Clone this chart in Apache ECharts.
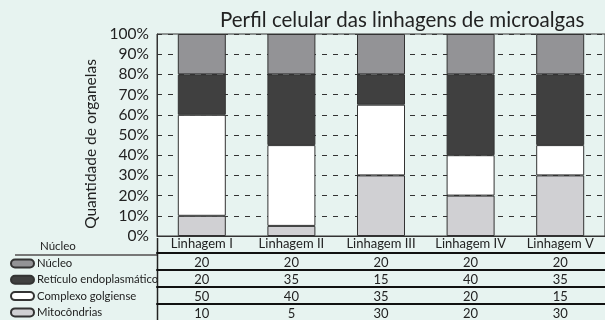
<!DOCTYPE html>
<html>
<head>
<meta charset="utf-8">
<script src="https://cdn.jsdelivr.net/npm/echarts@6/dist/echarts.min.js"></script>
<style>
  html, body { margin: 0; padding: 0; background: #e7f3f0; }
  #chart { width: 605px; height: 320px; }
</style>
</head>
<body>
<div id="chart"></div>
<script>
// Lineages shown on the x axis
const categories = ['Linhagem I', 'Linhagem II', 'Linhagem III', 'Linhagem IV', 'Linhagem V'];

// Organelle shares per lineage (%)
const nucleo = [20, 20, 20, 20, 20];
const reticulo = [20, 35, 15, 40, 35];
const complexo = [50, 40, 35, 20, 15];
const mitocondrias = [10, 5, 30, 20, 30];

const seriesNames = ['Núcleo', 'Retículo endoplasmático', 'Complexo golgiense', 'Mitocôndrias'];
const tableRows = [nucleo, reticulo, complexo, mitocondrias];

const FONT = 'Lato, "Open Sans", sans-serif';
const INK = '#222';

const chart = echarts.init(document.getElementById('chart'), null, { renderer: 'canvas' });

const GRID_LEFT = 157;
const GRID_TOP = 34;
const GRID_BOTTOM = 82;

// one hidden-tick category axis per table row; its axis line is the row separator
const rowOffsets = [17, 34, 51, 67.5];
const tableAxes = tableRows.map((row, k) => ({
  type: 'category',
  gridIndex: 0,
  data: categories,
  position: 'bottom',
  offset: rowOffsets[k],
  axisLine: { show: true, lineStyle: { color: '#111', width: 2 } },
  axisTick: { show: false },
  splitLine: { show: false },
  axisLabel: {
    interval: 0,
    margin: 3.5,
    fontFamily: FONT,
    fontSize: 13,
    color: INK,
    formatter: (v, i) => String(row[i])
  }
}));

const bar = (name, data, color) => ({
  name,
  type: 'bar',
  stack: 'total',
  data,
  barWidth: 48,
  xAxisIndex: 0,
  yAxisIndex: 0,
  itemStyle: { color, borderColor: '#333', borderWidth: 1 },
  emphasis: { disabled: true },
  animation: false
});

chart.setOption({
  backgroundColor: '#e7f3f0',
  animation: false,
  title: [
    {
      text: 'Perfil celular das linhagens de microalgas',
      left: 215,
      top: 5,
      textStyle: { fontFamily: FONT, fontSize: 20.5, fontWeight: 'normal', color: INK }
    },
    {
      text: 'Núcleo',
      left: 35,
      top: 235,
      textStyle: { fontFamily: FONT, fontSize: 11.5, fontWeight: 'normal', color: INK }
    }
  ],
  legend: {
    orient: 'vertical',
    left: 10,
    top: 258,
    padding: 0,
    itemGap: 5.3,
    itemWidth: 23,
    itemHeight: 8,
    selectedMode: false,
    icon: 'path://M4,0 L19,0 A4,4 0 0 1 19,8 L4,8 A4,4 0 0 1 4,0 Z',
    data: seriesNames,
    textStyle: { fontFamily: FONT, fontSize: 11.3, color: INK, padding: [0, 0, 0, -2] }
  },
  grid: {
    left: GRID_LEFT,
    right: -8,
    top: GRID_TOP,
    bottom: GRID_BOTTOM,
    show: true,
    backgroundColor: 'transparent',
    borderColor: '#333',
    borderWidth: 1
  },
  xAxis: [
    {
      type: 'category',
      data: categories,
      axisLine: { show: true, lineStyle: { color: '#333', width: 1 } },
      axisTick: { show: false },
      axisLabel: { interval: 0, margin: 1.5, fontFamily: FONT, fontSize: 13, color: INK }
    },
    ...tableAxes
  ],
  yAxis: {
    type: 'value',
    min: 0,
    max: 100,
    interval: 10,
    name: 'Quantidade de organelas',
    nameLocation: 'middle',
    nameRotate: 90,
    nameGap: 57,
    nameTextStyle: { fontFamily: FONT, fontSize: 15.5, color: INK, padding: [0, 18, 0, 0] },
    axisLine: { show: true, lineStyle: { color: '#333', width: 1 } },
    axisTick: { show: false },
    axisLabel: { formatter: '{value}%', margin: 8, fontFamily: FONT, fontSize: 15.5, color: INK },
    splitLine: { show: true, lineStyle: { color: '#333', width: 1, type: [5, 6] } }
  },
  graphic: [
    // row rule under the table header on the legend side
    { type: 'line', shape: { x1: 15, y1: 255, x2: GRID_LEFT, y2: 255 }, style: { stroke: '#777', lineWidth: 2 }, silent: true },
    // vertical rule continuing the value axis through the table
    { type: 'line', shape: { x1: GRID_LEFT + 0.5, y1: 238, x2: GRID_LEFT + 0.5, y2: 320 }, style: { stroke: '#222', lineWidth: 1.5 }, silent: true }
  ],
  series: [
    bar('Mitocôndrias', mitocondrias, '#d0d0d3'),
    bar('Complexo golgiense', complexo, '#ffffff'),
    bar('Retículo endoplasmático', reticulo, '#404040'),
    bar('Núcleo', nucleo, '#939396')
  ]
});
</script>
</body>
</html>
